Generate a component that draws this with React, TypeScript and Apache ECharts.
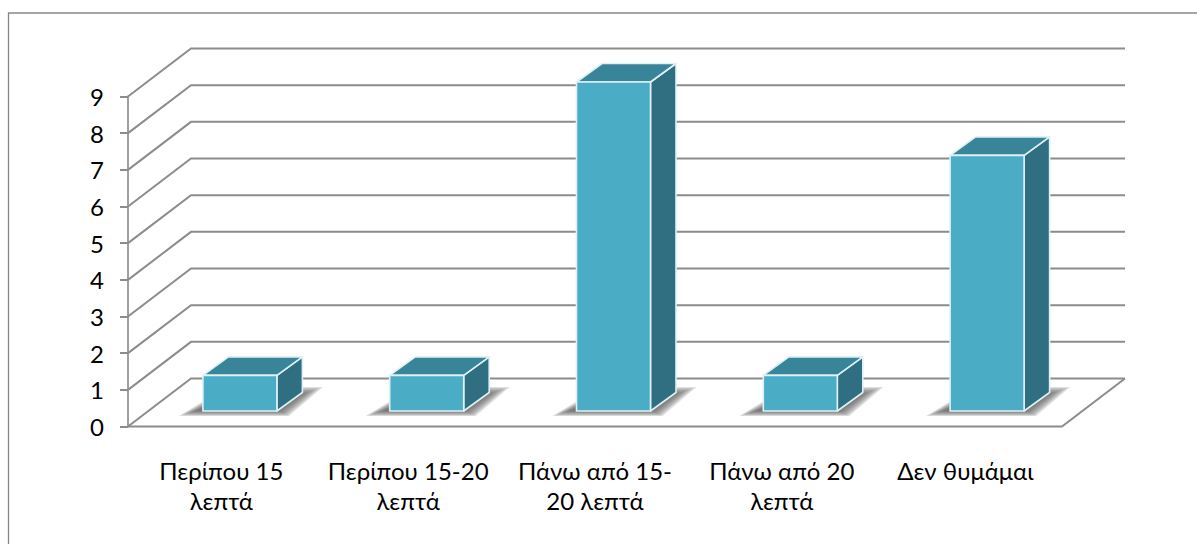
import React, { useEffect, useRef } from "react";
import * as echarts from "echarts";

const categories = [
  "Περίπου 15\nλεπτά",
  "Περίπου 15-20\nλεπτά",
  "Πάνω από 15-\n20 λεπτά",
  "Πάνω από 20\nλεπτά",
  "Δεν θυμάμαι ",
];
const answers = [1, 1, 9, 1, 7];
const yTicks = [0, 1, 2, 3, 4, 5, 6, 7, 8, 9];

// Oblique projection of the box: wall depth and column depth, in pixels.
const WALL_DX = 63;
const WALL_DY = 48;
const COL_DX = 25.5;
const COL_DY = 18.5;
const COL_HALF = 37;
const COL_SHIFT_X = 18.5;
const COL_SHIFT_Y = 15.5;
const COL_TOP_SHIFT_Y = 14.5;
const SHADOW_LAYERS = 8;

const GRID_COLOR = "#8c8c8c";
const FONT = "Lato, 'Noto Sans', sans-serif";

function renderWallLine(params: any, api: any) {
  const [, y] = api.coord([0, api.value(1)]);
  const left = params.coordSys.x;
  const right = left + params.coordSys.width;
  const isFloor = api.value(1) === 0;
  const line = { stroke: GRID_COLOR, lineWidth: 2, fill: "none" };
  const children: any[] = [
    {
      type: "polyline",
      shape: {
        points: [
          [left, y],
          [left + WALL_DX, y - WALL_DY],
          [right + WALL_DX, y - WALL_DY],
        ],
      },
      style: line,
    },
  ];
  if (isFloor) {
    children.push({
      type: "polyline",
      shape: {
        points: [
          [left, y],
          [right, y],
          [right + WALL_DX, y - WALL_DY],
        ],
      },
      style: line,
    });
  }
  return { type: "group", children };
}

function columnFrame(api: any) {
  const [cx, top] = api.coord([api.value(0), api.value(1)]);
  const [, base] = api.coord([api.value(0), 0]);
  return {
    l: cx + COL_SHIFT_X - COL_HALF,
    r: cx + COL_SHIFT_X + COL_HALF,
    t: top - COL_TOP_SHIFT_Y,
    b: base - COL_SHIFT_Y,
  };
}

// Soft cast shadow on the floor: nested translucent polygons fade out towards the rim.
function renderShadow(_params: any, api: any) {
  const { l, r, b } = columnFrame(api);
  const children: any[] = [];
  for (let k = 0; k < SHADOW_LAYERS; k++) {
    children.push({
      type: "polygon",
      shape: {
        points: [
          [l - 24 + k * 2.6, b + 5 - k * 0.8],
          [r + 12 - k * 1.5, b + 5 - k * 0.8],
          [r + 46 - k * 3.2, b - 24 + k * 1.1],
          [l + 24 + k, b - 24 + k * 1.1],
        ],
      },
      style: { fill: "rgba(95,95,95,0.2)" },
    });
  }
  return { type: "group", children };
}

function renderColumn(_params: any, api: any) {
  const { l, r, t, b } = columnFrame(api);
  const edge = { stroke: "#dff1f5", lineWidth: 1.6, lineJoin: "round" };
  return {
    type: "group",
    children: [
      {
        type: "polygon",
        shape: {
          points: [
            [r, t],
            [r + COL_DX, t - COL_DY],
            [r + COL_DX, b - COL_DY],
            [r, b],
          ],
        },
        style: { fill: "#306e81", ...edge },
      },
      {
        type: "polygon",
        shape: {
          points: [
            [l, t],
            [l + COL_DX, t - COL_DY],
            [r + COL_DX, t - COL_DY],
            [r, t],
          ],
        },
        style: { fill: "#388599", ...edge },
      },
      {
        type: "rect",
        shape: { x: l, y: t, width: r - l, height: b - t },
        style: { fill: "#4bacc6", ...edge },
      },
    ],
  };
}

export default function App() {
  const ref = useRef<HTMLDivElement>(null);

  useEffect(() => {
    const chart = echarts.init(ref.current!, null, { renderer: "svg" });
    const points = answers.map((v, i) => [i, v]);
    chart.setOption({
      animation: false,
      backgroundColor: "#ffffff",
      grid: { left: 128, top: 96.5, width: 934, height: 330 },
      xAxis: {
        type: "category",
        data: categories,
        axisLine: { show: false },
        axisTick: { show: false },
        axisLabel: {
          interval: 0,
          margin: 29,
          color: "#000000",
          fontFamily: FONT,
          fontSize: 24,
          lineHeight: 30,
        },
      },
      yAxis: {
        type: "value",
        min: 0,
        max: 9,
        interval: 1,
        splitLine: { show: false },
        axisLine: { show: true, lineStyle: { color: "#a0a0a0", width: 2 } },
        axisTick: { show: true, length: 8, lineStyle: { color: GRID_COLOR, width: 2 } },
        axisLabel: {
          margin: 24,
          color: "#000000",
          fontFamily: FONT,
          fontSize: 24,
          formatter: (v: number) => (yTicks.includes(v) ? String(v) : ""),
        },
      },
      series: [
        {
          type: "custom",
          name: "walls",
          data: yTicks.map((v) => [0, v]),
          encode: { x: 0, y: 1 },
          renderItem: renderWallLine,
          silent: true,
          z: 1,
        },
        {
          type: "custom",
          name: "shadows",
          data: points,
          encode: { x: 0, y: 1 },
          renderItem: renderShadow,
          silent: true,
          z: 2,
        },
        {
          type: "custom",
          name: "columns",
          data: points,
          encode: { x: 0, y: 1 },
          renderItem: renderColumn,
          silent: true,
          z: 3,
        },
      ],
      graphic: [
        {
          type: "polyline",
          silent: true,
          shape: {
            points: [
              [8.5, 544],
              [8.5, 13],
              [1197, 13],
            ],
          },
          style: { stroke: "#868686", lineWidth: 1.3, fill: "none" },
        },
      ],
    });
    return () => chart.dispose();
  }, []);

  return (
    <div
      ref={ref}
      style={{ position: "absolute", left: 0, top: 0, width: 1197, height: 544 }}
    />
  );
}
